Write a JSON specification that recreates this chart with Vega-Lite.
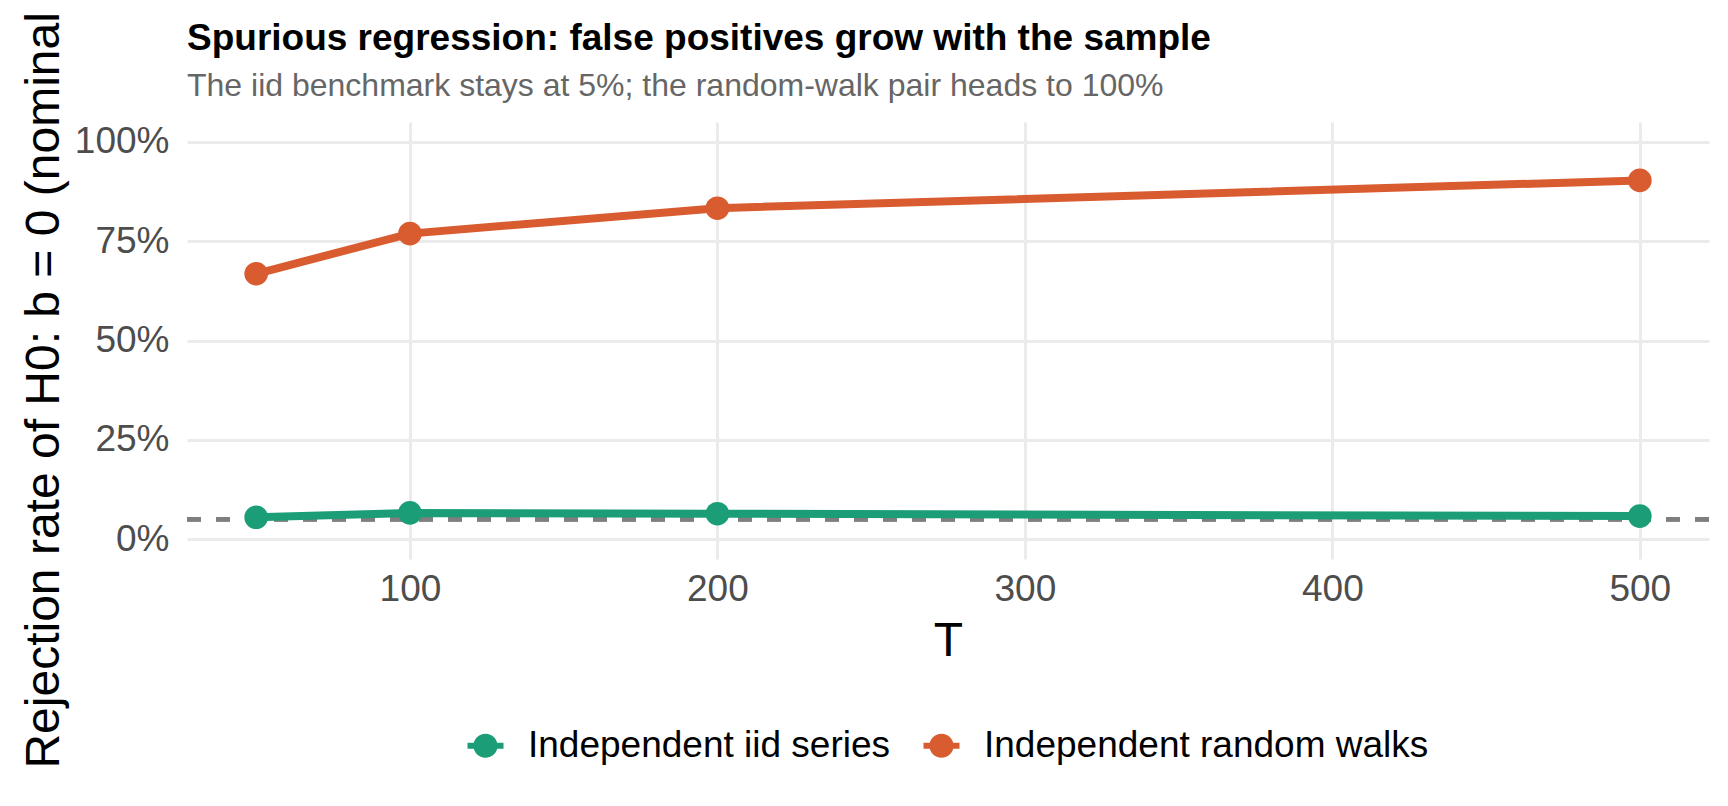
{
  "$schema": "https://vega.github.io/schema/vega-lite/v6.json",
  "description": "Spurious regression simulation: rejection rate of H0: b = 0 by sample size T.",
  "autosize": {"type": "none"},
  "width": 1522,
  "height": 437,
  "padding": {"left": 187, "top": 122, "right": 19, "bottom": 247},
  "background": "white",
  "title": {
    "text": "Spurious regression: false positives grow with the sample",
    "subtitle": "The iid benchmark stays at 5%; the random-walk pair heads to 100%",
    "anchor": "start",
    "frame": "group",
    "font": "Liberation Sans",
    "fontSize": 37,
    "fontWeight": "bold",
    "color": "#000000",
    "subtitleFont": "Liberation Sans",
    "subtitleFontSize": 32,
    "subtitleColor": "#666666",
    "subtitlePadding": 13,
    "offset": 22,
    "dy": 212
  },
  "data": {
    "values": [
      {"T": 50, "series": "Independent iid series", "rate": 0.055},
      {"T": 100, "series": "Independent iid series", "rate": 0.066},
      {"T": 200, "series": "Independent iid series", "rate": 0.064},
      {"T": 500, "series": "Independent iid series", "rate": 0.058},
      {"T": 50, "series": "Independent random walks", "rate": 0.668},
      {"T": 100, "series": "Independent random walks", "rate": 0.769},
      {"T": 200, "series": "Independent random walks", "rate": 0.833},
      {"T": 500, "series": "Independent random walks", "rate": 0.903}
    ]
  },
  "encoding": {
    "x": {
      "field": "T",
      "type": "quantitative",
      "title": "T",
      "scale": {"domain": [27.5, 522.5], "nice": false, "zero": false},
      "axis": {"values": [100, 200, 300, 400, 500], "labelPadding": 12, "titlePadding": 10}
    },
    "y": {
      "field": "rate",
      "type": "quantitative",
      "title": "Rejection rate of H0: b = 0 (nominal 5%)",
      "scale": {"domain": [-0.05, 1.05], "nice": false, "zero": false},
      "axis": {"values": [0, 0.25, 0.5, 0.75, 1], "format": ".0%", "labelPadding": 18, "titlePadding": 6}
    },
    "color": {
      "field": "series",
      "type": "nominal",
      "scale": {
        "domain": ["Independent iid series", "Independent random walks"],
        "range": ["#1B9E77", "#D95B30"]
      },
      "legend": {
        "title": null,
        "orient": "bottom",
        "direction": "horizontal",
        "offset": 62,
        "symbolType": "M -1 -0.17 H 1 V 0.17 H -1 Z M 0.67 0 A 0.67 0.67 0 1 1 -0.67 0 A 0.67 0.67 0 1 1 0.67 0 Z",
        "symbolSize": 1296,
        "symbolStrokeWidth": 0,
        "labelOffset": 24,
        "labelLimit": 800,
        "columnPadding": 32,
        "encode": {
          "symbols": {
            "update": {
              "fill": {"scale": "color", "field": "value"},
              "fillOpacity": {"value": 1},
              "strokeWidth": {"value": 0}
            }
          }
        }
      }
    }
  },
  "layer": [
    {
      "mark": {"type": "rule", "color": "#7F7F7F", "strokeWidth": 4, "strokeDash": [14, 15]},
      "encoding": {"y": {"datum": 0.05}, "x": null, "color": null}
    },
    {
      "mark": {"type": "line", "strokeWidth": 8},
      "encoding": {}
    },
    {
      "mark": {"type": "point", "filled": true, "size": 560, "opacity": 1},
      "encoding": {}
    }
  ],
  "config": {
    "view": {"stroke": null},
    "font": "Liberation Sans",
    "axis": {
      "domain": false,
      "ticks": false,
      "grid": true,
      "gridColor": "#EBEBEB",
      "gridWidth": 3,
      "labelFont": "Liberation Sans",
      "labelFontSize": 37,
      "labelColor": "#4D4D4D",
      "titleFont": "Liberation Sans",
      "titleFontSize": 48,
      "titleFontWeight": "normal",
      "titleColor": "#000000"
    },
    "legend": {
      "labelFont": "Liberation Sans",
      "labelFontSize": 37,
      "labelColor": "#000000",
      "layout": {"bottom": {"anchor": "middle"}}
    }
  }
}
